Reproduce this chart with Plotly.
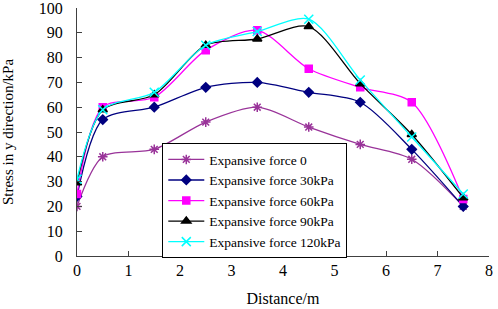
import plotly.graph_objects as go

distance = [0, 0.5, 1.5, 2.5, 3.5, 4.5, 5.5, 6.5, 7.5]
names = ["Expansive force 0", "Expansive force 30kPa", "Expansive force 60kPa",
         "Expansive force 90kPa", "Expansive force 120kPa"]
force_0 = [20, 40, 43, 54, 60, 52, 45, 39, 20]
force_30 = [24, 55, 60, 68, 70, 66, 62, 43, 20]
force_60 = [25, 60, 64, 83, 91, 75.5, 68, 62, 23]
force_90 = [29.5, 59, 65, 85, 87.5, 92.5, 69.5, 49, 23.5]
force_120 = [31, 59, 66, 85, 90.5, 95.5, 71, 48, 25]

series = [force_0, force_30, force_60, force_90, force_120]
colors = ["#993399", "#000080", "#FF00FF", "#000000", "#00FFFF"]
symbols = ["asterisk-open", "diamond", "square", "triangle-up", "x-thin-open"]
sizes = [8, 7, 7, 8, 9]

SERIF = "Times New Roman, Liberation Serif, serif"

fig = go.Figure()
for n, s, c, sym, sz in zip(names, series, colors, symbols, sizes):
    fig.add_trace(go.Scatter(
        x=distance, y=s, name=n, mode="lines+markers",
        line=dict(color=c, width=1.3, shape="spline", smoothing=0.8),
        marker=dict(symbol=sym, size=sz, color=c, line=dict(color=c, width=1.5)),
    ))

fig.update_layout(
    width=498, height=309,
    margin=dict(l=77, r=9, t=8, b=53, autoexpand=False),
    paper_bgcolor="white", plot_bgcolor="white",
    font=dict(family=SERIF, size=15, color="black"),
    showlegend=True,
    legend=dict(x=0.207, y=0.455, xanchor="left", yanchor="top",
                bordercolor="black", borderwidth=1, bgcolor="white",
                font=dict(family=SERIF, size=13.5, color="black"),
                tracegroupgap=0, itemwidth=36),
)
fig.update_xaxes(range=[0, 8], dtick=1, showgrid=False, zeroline=False,
                 showline=True, linecolor="#404040", linewidth=1,
                 ticks="inside", ticklen=5, tickcolor="#404040",
                 ticklabeloverflow="allow", automargin=False,
                 tickfont=dict(family=SERIF, size=16, color="black"),
                 title=dict(text="Distance/m", standoff=14,
                            font=dict(family=SERIF, size=16, color="black")))
fig.update_yaxes(range=[0, 100], dtick=10, showgrid=False, zeroline=False,
                 showline=True, linecolor="#404040", linewidth=1,
                 ticks="inside", ticklen=5, tickcolor="#404040",
                 ticklabeloverflow="allow", automargin=False,
                 ticklabelstandoff=10,
                 tickfont=dict(family=SERIF, size=16, color="black"),
                 title=dict(text="Stress in y direction/kPa", standoff=30,
                            font=dict(family=SERIF, size=15, color="black")))
fig.write_html("out.html",
               config={"displayModeBar": False},
               post_script="document.body.style.margin='0';document.body.style.overflow='hidden';")
